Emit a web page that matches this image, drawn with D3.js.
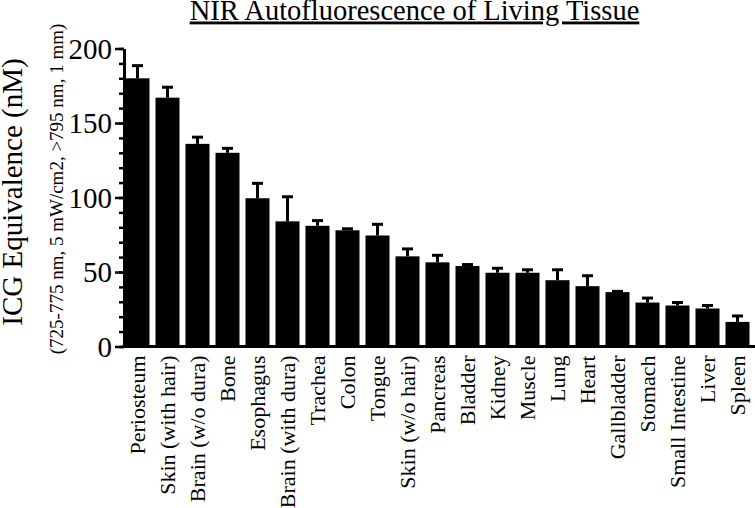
<!DOCTYPE html>
<html lang="en">
<head>
<meta charset="UTF-8">
<title>NIR Autofluorescence of Living Tissue</title>
<style>
  body { margin: 0; background: #fff; }
  svg { display: block; font-family: "Liberation Serif", "Times New Roman", serif; }
  .axis path, .axis line { stroke: #000; }
  .axis text { fill: #000; font-family: "Liberation Serif", "Times New Roman", serif; }
</style>
</head>
<body>
<div id="chart"></div>
<script src="https://cdnjs.cloudflare.com/ajax/libs/d3/7.8.5/d3.min.js"></script>
<script>
// tissue names, mean signal (nM ICG equivalent) and upper error (nM)
const tissues = ["Periosteum", "Skin (with hair)", "Brain (w/o dura)", "Bone", "Esophagus",
  "Brain (with dura)", "Trachea", "Colon", "Tongue", "Skin (w/o hair)", "Pancreas", "Bladder",
  "Kidney", "Muscle", "Lung", "Heart", "Gallbladder", "Stomach", "Small Intestine", "Liver", "Spleen"];
const values = [180, 167, 136, 130, 99.5, 84, 81, 78, 74.5, 60.5, 56.5, 54,
  49.5, 49.5, 44.5, 40.5, 36.5, 29.5, 27.5, 25.5, 16.5];
const errors = [8.5, 7, 4.5, 3, 10, 16.5, 3.5, 1, 7.5, 5, 4.7, 1,
  3, 2, 7, 7, 0.5, 3, 2, 2, 4];
const majorTicks = [0, 50, 100, 150, 200];
const minorTicks = d3.range(0, 201, 10);

const width = 755, height = 508;
const x0 = 124, xEnd = 755, yBase = 346.5, yTop = 48.5;

const svg = d3.select('#chart').append('svg')
  .attr('width', width)
  .attr('height', height);

const xScale = d3.scaleBand()
  .domain(tissues)
  .range([x0, 751])
  .paddingInner(0.2)
  .paddingOuter(0.05);

const yScale = d3.scaleLinear()
  .domain([0, 200])
  .range([yBase, yTop]);

const data = tissues.map((t, i) => ({ name: t, value: values[i], err: errors[i] }));

// bars
svg.selectAll('.bar')
  .data(data)
  .enter()
  .append('rect')
  .attr('class', 'bar')
  .attr('x', d => xScale(d.name))
  .attr('y', d => yScale(d.value))
  .attr('width', xScale.bandwidth())
  .attr('height', d => yScale(0) - yScale(d.value))
  .attr('fill', '#000');

// error bars (upper only)
const eb = svg.selectAll('.err')
  .data(data)
  .enter()
  .append('g')
  .attr('class', 'err')
  .attr('stroke', '#000')
  .attr('stroke-width', 3);

eb.append('line')
  .attr('x1', d => xScale(d.name) + xScale.bandwidth() / 2)
  .attr('x2', d => xScale(d.name) + xScale.bandwidth() / 2)
  .attr('y1', d => yScale(d.value))
  .attr('y2', d => yScale(d.value + d.err));

eb.append('line')
  .attr('x1', d => xScale(d.name) + xScale.bandwidth() / 2 - 5.5)
  .attr('x2', d => xScale(d.name) + xScale.bandwidth() / 2 + 5.5)
  .attr('y1', d => yScale(d.value + d.err))
  .attr('y2', d => yScale(d.value + d.err));

// y axis: minor ticks then major ticks with labels
svg.append('g')
  .attr('class', 'axis')
  .attr('transform', `translate(${x0}, 0)`)
  .call(d3.axisLeft(yScale).tickValues(minorTicks).tickSize(5).tickFormat('').tickSizeOuter(0))
  .call(g => g.select('.domain').remove())
  .selectAll('line').attr('stroke-width', 2.5);

const yAxis = svg.append('g')
  .attr('class', 'axis')
  .attr('id', 'y-axis')
  .attr('transform', `translate(${x0}, 0)`)
  .call(d3.axisLeft(yScale).tickValues(majorTicks).tickSize(9).tickPadding(3).tickSizeOuter(0));

yAxis.select('.domain').attr('stroke-width', 3);
yAxis.selectAll('line').attr('stroke-width', 2.5);
yAxis.selectAll('text')
  .style('font-size', '29px')
  .attr('dy', '0.34em');

// x axis
const xAxis = svg.append('g')
  .attr('class', 'axis')
  .attr('id', 'x-axis')
  .attr('transform', `translate(0, ${yBase})`)
  .call(d3.axisBottom(xScale).tickSize(0).tickSizeOuter(0));

xAxis.select('.domain').remove();
xAxis.append('line')
  .attr('x1', x0 - 1.5)
  .attr('x2', xEnd)
  .attr('stroke', '#000')
  .attr('stroke-width', 3);

xAxis.selectAll('.tick text')
  .style('font-size', '22px')
  .attr('text-anchor', 'end')
  .attr('transform', 'rotate(-90)')
  .attr('x', -9)
  .attr('y', 0)
  .attr('dy', '0.35em');

// title
svg.append('text')
  .attr('x', 414.5)
  .attr('y', 19.5)
  .attr('text-anchor', 'middle')
  .style('font-size', '28.5px')
  .style('text-decoration', 'underline')
  .text('NIR Autofluorescence of Living Tissue');

// y axis titles
svg.append('text')
  .attr('transform', 'translate(22, 192) rotate(-90)')
  .attr('text-anchor', 'middle')
  .style('font-size', '29px')
  .text('ICG Equivalence (nM)');

svg.append('text')
  .attr('transform', 'translate(63, 189) rotate(-90)')
  .attr('text-anchor', 'middle')
  .style('font-size', '19px')
  .text('(725-775 nm, 5 mW/cm2, >795 nm, 1 mm)');
</script>
</body>
</html>
